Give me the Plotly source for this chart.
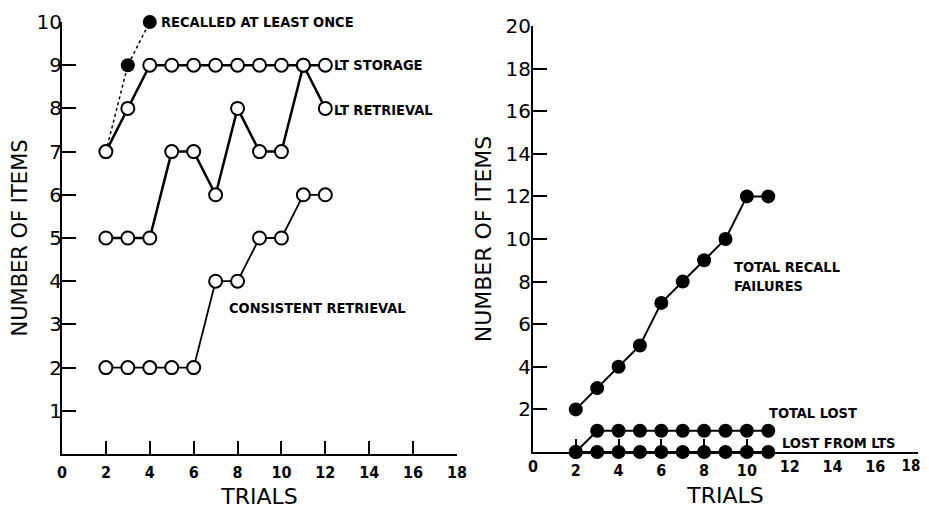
import plotly.graph_objects as go

# ---------------- data ----------------
trials_left = [2, 3, 4, 5, 6, 7, 8, 9, 10, 11, 12]
recalled_trials = [2, 3, 4]
recalled_at_least_once = [7, 9, 10]
lt_storage = [7, 8, 9, 9, 9, 9, 9, 9, 9, 9, 9]
lt_retrieval = [5, 5, 5, 7, 7, 6, 8, 7, 7, 9, 8]
consistent_retrieval = [2, 2, 2, 2, 2, 4, 4, 5, 5, 6, 6]

trials_right = [2, 3, 4, 5, 6, 7, 8, 9, 10, 11]
total_recall_failures = [2, 3, 4, 5, 7, 8, 9, 10, 12, 12]
total_lost = [0, 1, 1, 1, 1, 1, 1, 1, 1, 1]
lost_from_lts = [0, 0, 0, 0, 0, 0, 0, 0, 0, 0]

x_tick_vals = [0, 2, 4, 6, 8, 10, 12, 14, 16, 18]
right_x_ticked_vals = [2, 4, 6, 8, 10, 18]     # right panel: positions with a tick mark
right_x_plain_vals = [0, 12, 14, 16]           # right panel: labels without a tick mark
right_x_edge_vals = [18]                       # right panel: last label (kept inside page)
left_y_ticks = [1, 2, 3, 4, 5, 6, 7, 8, 9, 10]
right_y_ticks = [2, 4, 6, 8, 10, 12, 14, 16, 18, 20]

# ---------------- styles ----------------
OFF = 8                      # page body margin
W, H = 929 - 2 * OFF, 509 - OFF
NARROW = "DejaVu Sans Condensed, Liberation Sans Narrow, sans-serif"
GEO = "DejaVu Sans, Open Sans, sans-serif"
INK = "black"


def px_x(p):
    return (p - OFF) / W


def px_y(p):
    return (H - (p - OFF)) / H


open_marker = dict(symbol="circle", size=13, color="white", line=dict(color=INK, width=2))
filled_marker = dict(symbol="circle", size=14, color=INK, line=dict(color=INK, width=0))

fig = go.Figure()

# left panel
fig.add_trace(go.Scatter(x=recalled_trials, y=recalled_at_least_once, mode="lines+markers",
                         line=dict(color=INK, width=1.5, dash="dot"), marker=filled_marker,
                         xaxis="x", yaxis="y", cliponaxis=False, showlegend=False))
fig.add_trace(go.Scatter(x=trials_left, y=lt_storage, mode="lines+markers",
                         line=dict(color=INK, width=2.5), marker=open_marker,
                         xaxis="x", yaxis="y", cliponaxis=False, showlegend=False))
fig.add_trace(go.Scatter(x=trials_left, y=lt_retrieval, mode="lines+markers",
                         line=dict(color=INK, width=2.5), marker=open_marker,
                         xaxis="x", yaxis="y", cliponaxis=False, showlegend=False))
fig.add_trace(go.Scatter(x=trials_left, y=consistent_retrieval, mode="lines+markers",
                         line=dict(color=INK, width=1.8), marker=open_marker,
                         xaxis="x", yaxis="y", cliponaxis=False, showlegend=False))

# right panel
fig.add_trace(go.Scatter(x=trials_right, y=total_recall_failures, mode="lines+markers",
                         line=dict(color=INK, width=2), marker=filled_marker,
                         xaxis="x2", yaxis="y2", cliponaxis=False, showlegend=False))
fig.add_trace(go.Scatter(x=trials_right, y=total_lost, mode="lines+markers",
                         line=dict(color=INK, width=2), marker=filled_marker,
                         xaxis="x2", yaxis="y2", cliponaxis=False, showlegend=False))
fig.add_trace(go.Scatter(x=trials_right, y=lost_from_lts, mode="lines+markers",
                         line=dict(color=INK, width=2), marker=filled_marker,
                         xaxis="x2", yaxis="y2", cliponaxis=False, showlegend=False))
# empty traces so that the overlaid label-only axes are drawn
fig.add_trace(go.Scatter(x=[], y=[], xaxis="x3", yaxis="y2", showlegend=False,
                         hoverinfo="skip"))
fig.add_trace(go.Scatter(x=[], y=[], xaxis="x4", yaxis="y2", showlegend=False,
                         hoverinfo="skip"))

XFONT = dict(family=NARROW, size=16, color=INK, weight="bold")


def xaxis_cfg(domain, anchor, vals, ticks="inside", title=True, line=True):
    d = dict(
        domain=domain, anchor=anchor, range=[0, 18], showgrid=False, zeroline=False,
        showline=line, linecolor=INK, linewidth=2,
        tickmode="array", tickvals=vals, ticktext=[str(v) for v in vals],
        ticks=ticks, ticklen=13, tickwidth=2, tickcolor=INK,
        tickfont=XFONT, ticklabelstandoff=3,
        automargin=False, fixedrange=True,
    )
    if title:
        d["title"] = dict(text="TRIALS", font=dict(family=GEO, size=22, color=INK), standoff=8)
    return d


def yaxis_cfg(domain, anchor, rng, ticks, title_size, standoff, lab_standoff):
    return dict(
        domain=domain, anchor=anchor, range=rng, showgrid=False, zeroline=False,
        showline=True, linecolor=INK, linewidth=2,
        tickmode="array", tickvals=ticks, ticks="inside", ticklen=14, tickwidth=2,
        tickcolor=INK, tickfont=dict(family=GEO, size=20, color=INK),
        ticklabelstandoff=lab_standoff,
        title=dict(text="NUMBER OF ITEMS", font=dict(family=GEO, size=title_size, color=INK),
                   standoff=standoff),
        automargin=False, fixedrange=True,
    )


right_dom = [px_x(533), px_x(918)]

# main right x axis: tick marks, labels for 2..10 only
x2 = xaxis_cfg(right_dom, "y2", right_x_ticked_vals)
x2["ticktext"] = [str(v) if v != 18 else "" for v in right_x_ticked_vals]

x3 = xaxis_cfg(right_dom, "y2", right_x_plain_vals, ticks="", title=False, line=False)
x3.update(overlaying="x2", side="bottom")

x4 = xaxis_cfg(right_dom, "y2", right_x_edge_vals, ticks="", title=False, line=False)
x4.update(overlaying="x2", side="bottom", ticklabelshift=-7, ticklabeloverflow="allow",
          tickfont=dict(family=NARROW, size=15, color=INK, weight="bold"))

fig.update_layout(
    width=W, height=H, margin=dict(l=0, r=0, t=0, b=0),
    paper_bgcolor="white", plot_bgcolor="white",
    xaxis=xaxis_cfg([px_x(62), px_x(457)], "y", x_tick_vals),
    yaxis=yaxis_cfg([px_y(454), px_y(22)], "x", [0, 10], left_y_ticks, 21, 12, -6),
    xaxis2=x2, xaxis3=x3, xaxis4=x4,
    yaxis2=yaxis_cfg([px_y(452), px_y(26)], "x2", [0, 20], right_y_ticks, 22, 8, -4),
)

lab_font = dict(family=NARROW, size=14.5, color=INK, weight="bold")
annos = [
    dict(text="RECALLED AT LEAST ONCE", x=4, y=10, xref="x", yref="y", xanchor="left", xshift=9),
    dict(text="LT STORAGE", x=12, y=9, xref="x", yref="y", xanchor="left", xshift=7),
    dict(text="LT RETRIEVAL", x=12, y=8, xref="x", yref="y", xanchor="left", xshift=7, yshift=-2),
    dict(text="CONSISTENT RETRIEVAL", x=7.52, y=3.38, xref="x", yref="y", xanchor="left"),
    dict(text="TOTAL RECALL<br>FAILURES", x=9.3, y=8.26, xref="x2", yref="y2",
         xanchor="left", align="left"),
    dict(text="TOTAL LOST", x=10.94, y=1.83, xref="x2", yref="y2", xanchor="left"),
    dict(text="LOST FROM LTS", x=11.55, y=0.42, xref="x2", yref="y2", xanchor="left"),
]
for a in annos:
    a.update(showarrow=False, font=lab_font, yanchor="middle")
    fig.add_annotation(**a)

fig.write_html("out.html")
